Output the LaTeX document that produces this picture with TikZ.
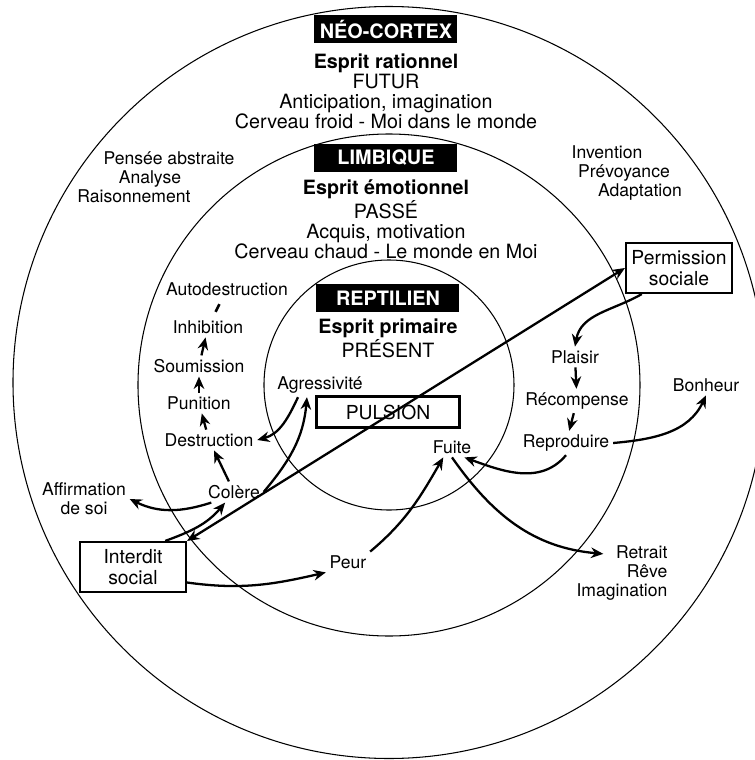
\documentclass[tikz,border=0pt]{standalone}
\usepackage{fontspec}
\setmainfont{TeX Gyre Heros}
\usepackage{xcolor}
\usepackage{tikz}
\usetikzlibrary{arrows.meta, positioning, calc}
\definecolor{ringcolor}{RGB}{0, 0, 0}
\definecolor{labelcolor}{RGB}{255, 255, 255}

\tikzset{
  ring/.style={draw=ringcolor, line width=0.6pt},
  layerbox/.style={fill=black, text=labelcolor, font=\fontsize{11.3}{12}\selectfont\bfseries, minimum width=2.86cm, minimum height=0.56cm, inner sep=0pt},
  layertext/.style={align=center, font=\fontsize{11.2}{11.4}\selectfont},
  tag/.style={align=center, inner sep=2pt, font=\fontsize{10}{10.8}\selectfont},
  socialbox/.style={draw, line width=1.2pt, align=center, font=\fontsize{11}{11.6}\selectfont, minimum width=2.12cm, minimum height=1cm, inner sep=1pt},
  arr/.style={-{Stealth[length=7pt, width=6pt]}, line width=1.3pt},
  arrboth/.style={{Stealth[length=7pt, width=6pt]}-{Stealth[length=7pt, width=6pt]}, line width=1.3pt}
}

\begin{document}
\begin{tikzpicture}
        \useasboundingbox (-7.78, -7.5) rectangle (7.32, 7.7);

        % Rings
        \draw[ring] (0, 0.05) circle (7.52);
        \draw[ring] (0, 0) circle (5.02);
        \draw[ring] (0, 0) circle (2.5);

        % Neo-cortex
        \node[layerbox] (neo) at (-0.06, 7.12) {NÉO-CORTEX};
        \node[layertext] (neotext) at (-0.06, 5.88) {{\bfseries Esprit rationnel}\\FUTUR\\Anticipation, imagination\\Cerveau froid - Moi dans le monde};
        \node[tag] (pensee) at (-4.78, 4.16) {\hspace*{0.76cm}Pensée abstraite\\Analyse\\Raisonnement\hspace*{0.64cm}};
        \node[tag] (invent) at (4.7, 4.24) {Invention\hspace*{0.68cm}\\Prévoyance\\\hspace*{0.64cm}Adaptation};

        % Limbique
        \node[layerbox] (limb) at (-0.06, 4.54) {LIMBIQUE};
        \node[layertext] (limbtext) at (-0.06, 3.31) {{\bfseries Esprit émotionnel}\\PASSÉ\\Acquis, motivation\\Cerveau chaud - Le monde en Moi};

        % Reptilien
        \node[layerbox] (rept) at (-0.02, 1.74) {REPTILIEN};
        \node[layertext] (repttext) at (-0.02, 0.94) {{\bfseries Esprit primaire}\\PRÉSENT};
        \node[draw, line width=1.2pt, minimum width=2.86cm, minimum height=0.62cm, font=\fontsize{11}{12}\selectfont] (pulsion) at (-0.02, -0.54) {PULSION};
        \node[tag] (agres) at (-1.38, 0) {Agressivité};
        \node[tag] (fuite) at (1.26, -1.24) {Fuite};

        % Left chain
        \node[tag] (autod) at (-3.24, 1.92) {Autodestruction};
        \node[tag] (inhib) at (-3.62, 1.16) {Inhibition};
        \node[tag] (soum) at (-3.8, 0.38) {Soumission};
        \node[tag] (punit) at (-3.8, -0.36) {Punition};
        \node[tag] (destr) at (-3.6, -1.1) {Destruction};
        \node[tag] (colere) at (-3.1, -2.14) {Colère};
        \node[tag] (affirm) at (-6.1, -2.28) {Affirmation\\de soi};
        \node[socialbox] (interdit) at (-5.12, -3.64) {Interdit\\social};
        \node[tag] (peur) at (-0.82, -3.54) {Peur};

        % Right chain
        \node[socialbox] (perm) at (5.8, 2.34) {Permission\\sociale};
        \node[tag] (plaisir) at (3.72, 0.56) {Plaisir};
        \node[tag] (recomp) at (3.76, -0.32) {Récompense};
        \node[tag] (reprod) at (3.54, -1.16) {Reproduire};
        \node[tag] (bonheur) at (6.34, 0) {Bonheur};
        \node[tag, align=right] (retrait) at (4.66, -3.76) {Retrait\\Rêve\hspace*{0.5cm}\\Imagination};

        % Connections, left
        \draw[line width=1.5pt, shorten <=3pt, shorten >=3pt] (inhib) -- (autod);
        \draw[arr] (soum) -- (inhib);
        \draw[arr] (punit) -- (soum);
        \draw[arr] (destr) -- (punit);
        \draw[arr] (colere) -- (destr);
        \draw[arr] (agres.209) to[out=-115, in=15] (destr.east);
        \draw[arr] (colere.east) to[out=50, in=-95] (agres.223);
        \draw[arr] (colere.205) to[out=198, in=-26] (affirm.east);
        \draw[arr] (interdit.39) to[out=20, in=-130] (colere.230);
        \draw[arrboth] (interdit.north east) -- (perm.west);
        \draw[arr] (interdit.-16) to[out=-8, in=193] (peur.south west);
        \draw[arr] (peur.north east) to[out=40, in=-120] (fuite.230);

        % Connections, right
        \draw[arr] (perm.215) to[out=210, in=80] (plaisir.north);
        \draw[arr] (plaisir) -- (recomp);
        \draw[arr] (recomp) -- (reprod);
        \draw[arr] (reprod.east) to[out=5, in=-115] (bonheur.south);
        \draw[arr] (reprod.south) to[out=-130, in=-20] (fuite.-40);
        \draw[arr] (fuite.south) to[out=-55, in=175] ([xshift=-1.36cm, yshift=-0.24cm]retrait.north east);
    \end{tikzpicture}
\end{document}
